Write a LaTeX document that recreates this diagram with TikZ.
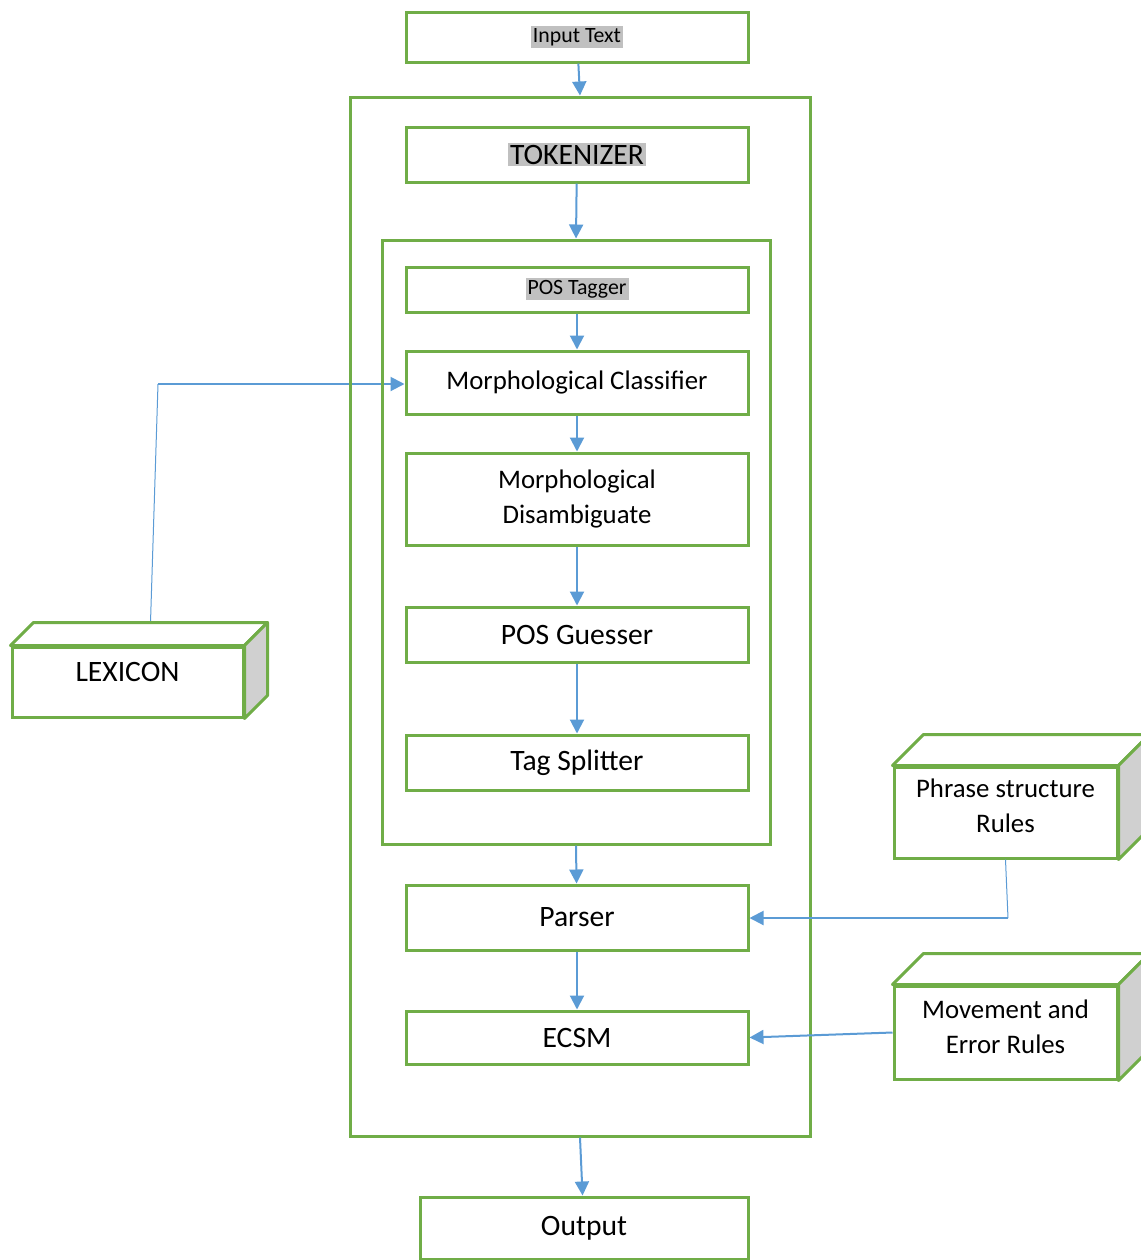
\documentclass[tikz,border=0pt]{standalone}
\usepackage{xcolor}
\usepackage{fontspec}
\setmainfont{Carlito}
\usepackage{tikz}
\usetikzlibrary{arrows.meta,positioning,calc,backgrounds}
\definecolor{boxgreen}{RGB}{112,173,71}
\definecolor{arrowblue}{RGB}{91,155,213}
\definecolor{sidegray}{RGB}{208,208,208}
\definecolor{markgray}{RGB}{192,192,192}
\newcommand{\hilite}[1]{{\setlength{\fboxsep}{1pt}\colorbox{markgray}{#1}}}
\tikzset{
	stage/.style = {
			draw=boxgreen,
			line width=1.5pt,
			rectangle,
			fill=white,
			minimum width=171pt,
			align=center,
			font=\fontsize{13.4}{17.5}\selectfont,
		},
	bigtext/.style = {
			font=\fontsize{14.8}{18}\selectfont,
		},
	smalltext/.style = {
			font=\fontsize{10.9}{13}\selectfont,
		},
	frame/.style = {
			draw=boxgreen,
			line width=1.5pt,
			rectangle,
		},
	flow/.style = {
			draw=arrowblue,
			line width=1pt,
			-{Triangle[length=7pt,width=7pt]},
		},
	feedline/.style = {
			draw=arrowblue,
			line width=0.5pt,
		},
	cubeside/.style = {
			draw=boxgreen,
			line width=1.5pt,
			line join=round,
		}
}

\begin{document}
\begin{tikzpicture}[x=0.5pt, y=-0.5pt]
						\useasboundingbox (0,0) rectangle (1141,1260);

						\node[frame, minimum width=230pt, minimum height=519.5pt] at (580,616.5) (outer) {};
						\node[frame, minimum width=194pt, minimum height=302pt] at (576,542) (inner) {};

						\node[stage, smalltext, minimum height=25pt, text depth=3pt] at (577,37) (input) {\hilite{Input Text}};
						\node[stage, bigtext, minimum height=27.5pt, text depth=1pt] at (577,154.5) (tokenizer) {\hilite{TOKENIZER}};
						\node[stage, smalltext, minimum height=22.5pt, text depth=3pt] at (577,289.5) (tagger) {\hilite{POS Tagger}};
						\node[stage, minimum height=31.5pt] at (577,382.5) (classifier) {Morphological Classifier};
						\node[stage, minimum height=46pt] at (577,499) (disamb) {Morphological\\Disambiguate};
						\node[stage, bigtext, minimum height=27.5pt] at (577,634.5) (guesser) {POS Guesser};
						\node[stage, bigtext, minimum height=27.5pt] at (577,762.5) (splitter) {Tag Splitter};
						\node[stage, bigtext, minimum height=32.5pt] at (577,917.5) (parser) {Parser};
						\node[stage, bigtext, minimum height=26.5pt] at (577,1037.5) (ecsm) {ECSM};
						\node[stage, bigtext, minimum width=164pt, minimum height=31pt] at (584,1228) (output) {Output};

						\node[stage, bigtext, minimum width=115.5pt, minimum height=35pt, text depth=10pt] at (127.5,682) (lexicon) {LEXICON};
						\node[stage, minimum width=111.5pt, minimum height=45.5pt, text depth=7pt] at (1005.5,812.5) (phrase) {Phrase structure\\Rules};
						\node[stage, minimum width=111.5pt, minimum height=46.5pt, text depth=6pt] at (1005.5,1032.5) (movement) {Movement and\\Error Rules};

						\draw[cubeside, fill=white] (lexicon.north west) -- ++(23,-23) -- ($(lexicon.north east)+(23,-23)$) -- (lexicon.north east) -- cycle;
						\draw[cubeside, fill=sidegray] (lexicon.north east) -- ++(23,-23) -- ($(lexicon.south east)+(23,-23)$) -- (lexicon.south east) -- cycle;
						\draw[cubeside, fill=white] (phrase.north west) -- ++(31,-31) -- ($(phrase.north east)+(31,-31)$) -- (phrase.north east) -- cycle;
						\draw[cubeside, fill=sidegray] (phrase.north east) -- ++(31,-31) -- ($(phrase.south east)+(31,-31)$) -- (phrase.south east) -- cycle;
						\draw[cubeside, fill=white] (movement.north west) -- ++(31,-31) -- ($(movement.north east)+(31,-31)$) -- (movement.north east) -- cycle;
						\draw[cubeside, fill=sidegray] (movement.north east) -- ++(31,-31) -- ($(movement.south east)+(31,-31)$) -- (movement.south east) -- cycle;

						\draw[flow] (input) -- (outer.north);
						\draw[flow] (tokenizer) -- (inner.north);
						\draw[flow] (tagger) -- (classifier);
						\draw[flow] (classifier) -- (disamb);
						\draw[flow] (disamb) -- (guesser);
						\draw[flow] (guesser) -- (splitter);
						\draw[flow] (inner.south) -- (parser);
						\draw[flow] (parser) -- (ecsm);
						\draw[flow] (outer.south) -- (output);

						\coordinate (lexbend) at (158,384);
						\coordinate (phrasebend) at (1008,918);
						\begin{scope}[on background layer]
							\draw[feedline] ($(lexicon.north)+(23,-23)$) -- (lexbend);
							\draw[flow] (lexbend) -- (lexbend -| classifier.west);
						\end{scope}
						\draw[feedline] (phrase.south) -- (phrasebend);
						\draw[flow] (phrasebend) -- (phrasebend -| parser.east);
						\draw[flow] (movement.west) -- (ecsm.east);
					\end{tikzpicture}
\end{document}
